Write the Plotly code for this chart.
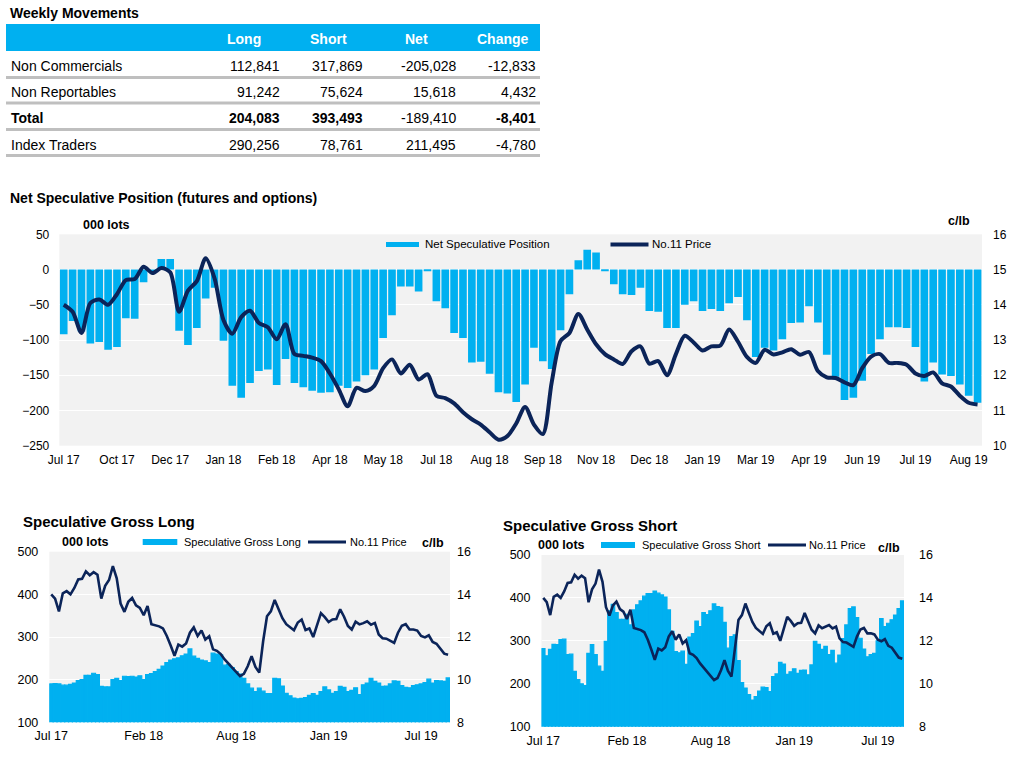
import plotly.graph_objects as go

W, H = 1036, 757
FONT = "Liberation Sans, Arial, sans-serif"
BLUE = "#00B0F0"
NAVY = "#0B2459"
BG = "#F2F2F2"

# ---------------- data ----------------
table_rows = ["Non Commercials", "Non Reportables", "Total", "Index Traders"]
table_cols = ["Long", "Short", "Net", "Change"]
col_long = ["112,841", "91,242", "204,083", "290,256"]
col_short = ["317,869", "75,624", "393,493", "78,761"]
col_net = ["-205,028", "15,618", "-189,410", "211,495"]
col_change = ["-12,833", "4,432", "-8,401", "-4,780"]
bold_cells = {(2, 0), (2, 1), (2, 3)}  # Total row: Long, Short, Change bold

main_tick_labels = ["Jul 17", "Oct 17", "Dec 17", "Jan 18", "Feb 18", "Apr 18", "May 18",
                    "Jul 18", "Aug 18", "Sep 18", "Nov 18", "Dec 18", "Jan 19", "Mar 19",
                    "Apr 19", "Jun 19", "Jul 19", "Aug 19"]
small_tick_labels = ["Jul 17", "Feb 18", "Aug 18", "Jan 19", "Jul 19"]

net_position = [
    -92, -73, -88, -105, -103, -114, -110, -69, -70, -18,
    -3, 15, 15, -87, -107, -83, -41, -26, -101, -165,
    -182, -161, -144, -142, -164, -127, -161, -167, -172, -175,
    -174, -165, -168, -159, -150, -142, -97, -65, -24, -24,
    -31, -2, -45, -55, -90, -97, -132, -131, -148, -174,
    -176, -188, -163, -111, -130, -141, -86, -35, 13, 28,
    24, -2, -21, -35, -36, -26, -59, -60, -83, -83,
    -50, -45, -59, -56, -59, -48, -39, -72, -124, -111,
    -115, -99, -76, -75, -52, -75, -121, -152, -185, -182,
    -158, -120, -99, -82, -82, -83, -110, -159, -132, -149,
    -151, -163, -179, -189]

price = [
    14.0, 13.8, 13.2, 14.05, 14.15, 14.0, 14.3, 14.7, 14.73, 15.08,
    14.9, 15.04, 14.92, 13.8, 14.4, 14.67, 15.32, 14.75, 13.57, 13.18,
    13.65, 13.83, 13.48, 13.36, 13.02, 13.45, 12.6, 12.55, 12.5, 12.4,
    12.05, 11.6, 11.12, 11.64, 11.55, 11.7, 12.2, 12.45, 12.05, 12.3,
    11.88, 12.03, 11.42, 11.35, 11.2, 10.95, 10.75, 10.6, 10.38, 10.17,
    10.27, 10.63, 11.1, 10.6, 10.33, 11.8, 12.97, 13.2, 13.74, 13.3,
    12.88, 12.6, 12.45, 12.32, 12.68, 12.82, 12.33, 12.4, 12.0, 12.6,
    13.12, 12.93, 12.7, 12.82, 12.84, 13.3, 12.95, 12.52, 12.35, 12.72,
    12.59, 12.65, 12.74, 12.58, 12.66, 12.12, 11.94, 11.92, 11.8, 11.72,
    12.2, 12.53, 12.6, 12.35, 12.35, 12.3, 12.05, 11.98, 12.08, 11.77,
    11.68, 11.42, 11.22, 11.17]

gross_long = [
    190, 191, 190, 187, 187, 189, 192, 198, 200, 210,
    210, 215, 212, 184, 183, 183, 200, 203, 198, 208,
    207, 208, 206, 209, 200, 212, 214, 219, 224, 232,
    240, 246, 249, 251, 256, 260, 272, 255, 250, 246,
    244, 240, 262, 260, 258, 234, 236, 228, 219, 213,
    203, 190, 180, 172, 180, 173, 167, 167, 203, 202,
    185, 168, 162, 157, 155, 156, 158, 163, 167, 163,
    172, 183, 176, 168, 172, 184, 182, 172, 175, 181,
    165, 188, 192, 203, 196, 192, 184, 185, 190, 197,
    196, 186, 182, 181, 186, 188, 190, 193, 201, 192,
    198, 197, 196, 204]

gross_short = [
    282, 265, 280, 292, 291, 303, 304, 268, 269, 229,
    210, 200, 196, 271, 291, 268, 241, 229, 299, 370,
    385, 366, 350, 350, 362, 337, 372, 384, 393, 404,
    410, 410, 416, 411, 407, 402, 372, 322, 275, 272,
    276, 245, 309, 317, 346, 333, 366, 361, 370, 386,
    380, 378, 343, 283, 310, 314, 254, 203, 190, 175,
    162, 170, 183, 192, 191, 182, 217, 223, 250, 246,
    222, 228, 235, 224, 231, 232, 221, 244, 299, 292,
    280, 287, 268, 278, 248, 267, 305, 337, 375, 379,
    354, 306, 281, 263, 268, 271, 300, 352, 333, 341,
    349, 360, 375, 393]

idx = list(range(len(net_position)))
main_tickvals = list(range(0, 6 * len(main_tick_labels), 6))
small_tickvals = list(range(0, 24 * len(small_tick_labels), 24))


def px(x):
    return x / W


def py(y):
    return 1 - y / H


fig = go.Figure()

# ---------------- main chart ----------------
fig.add_trace(go.Bar(x=idx, y=net_position, width=0.86, marker=dict(color=BLUE, line=dict(width=0)),
                     xaxis="x", yaxis="y", name="Net Speculative Position"))
fig.add_trace(go.Scatter(x=idx, y=price, mode="lines",
                         line=dict(color=NAVY, width=4, shape="spline", smoothing=0.8),
                         xaxis="x", yaxis="y2", name="No.11 Price"))

# ---------------- gross long ----------------
fig.add_trace(go.Bar(x=idx, y=gross_long, width=1.0,
                     marker=dict(color=BLUE, line=dict(width=1.2, color=BLUE)),
                     xaxis="x2", yaxis="y3", name="Speculative Gross Long"))
fig.add_trace(go.Scatter(x=idx, y=price, mode="lines", line=dict(color=NAVY, width=2.6),
                         xaxis="x2", yaxis="y4", name="No.11 Price"))

# ---------------- gross short ----------------
fig.add_trace(go.Bar(x=idx, y=gross_short, width=1.0,
                     marker=dict(color=BLUE, line=dict(width=1.2, color=BLUE)),
                     xaxis="x3", yaxis="y5", name="Speculative Gross Short"))
fig.add_trace(go.Scatter(x=idx, y=price, mode="lines", line=dict(color=NAVY, width=2.6),
                         xaxis="x3", yaxis="y6", name="No.11 Price"))

tick12 = dict(family=FONT, size=12, color="#000")
tick125 = dict(family=FONT, size=12.5, color="#000")
xr = [-0.5, len(idx) - 0.5]

common_x = dict(showgrid=False, zeroline=False, showline=False, ticks="", range=xr, fixedrange=True,
                automargin=False)
common_y = dict(zeroline=False, showline=False, ticks="", fixedrange=True, automargin=False)

fig.update_layout(
    width=W, height=H, autosize=False,
    margin=dict(l=0, r=0, t=0, b=0, pad=0, autoexpand=False),
    paper_bgcolor="white", plot_bgcolor=BG,
    showlegend=False,
    font=dict(family=FONT, color="#000"),
    xaxis=dict(domain=[px(59.3), px(982)], anchor="y", tickvals=main_tickvals, ticktext=main_tick_labels,
               tickfont=tick12, ticklabelstandoff=5, **common_x),
    yaxis=dict(domain=[py(445.7), py(234.3)], anchor="x", range=[-250, 50],
               tickvals=[-250, -200, -150, -100, -50, 0, 50], showgrid=True, gridcolor="white", gridwidth=1.3,
               tickfont=tick12, ticklabelstandoff=9, **common_y),
    yaxis2=dict(overlaying="y", side="right", anchor="x", range=[10, 16], tickvals=list(range(10, 17)),
                showgrid=False, tickfont=tick12, ticklabelstandoff=10, **common_y),
    xaxis2=dict(domain=[px(49.3), px(450)], anchor="y3", tickvals=small_tickvals, ticktext=small_tick_labels,
                tickfont=tick125, ticklabelstandoff=4, **common_x),
    yaxis3=dict(domain=[py(722.3), py(551.7)], anchor="x2", range=[100, 500],
                tickvals=[100, 200, 300, 400, 500], showgrid=True, gridcolor="white", gridwidth=1.3,
                tickfont=tick125, ticklabelstandoff=10, **common_y),
    yaxis4=dict(overlaying="y3", side="right", anchor="x2", range=[8, 16], tickvals=[8, 10, 12, 14, 16],
                showgrid=False, tickfont=tick125, ticklabelstandoff=6, **common_y),
    xaxis3=dict(domain=[px(541.5), px(904)], anchor="y5", tickvals=small_tickvals, ticktext=small_tick_labels,
                tickfont=tick125, ticklabelstandoff=5, **common_x),
    yaxis5=dict(domain=[py(726.7), py(555)], anchor="x3", range=[100, 500],
                tickvals=[100, 200, 300, 400, 500], showgrid=True, gridcolor="white", gridwidth=1.3,
                tickfont=tick125, ticklabelstandoff=10, **common_y),
    yaxis6=dict(overlaying="y5", side="right", anchor="x3", range=[8, 16], tickvals=[8, 10, 12, 14, 16],
                showgrid=False, tickfont=tick125, ticklabelstandoff=14, **common_y),
)

shapes = []
ann = []


def text(x, y, s, size, bold=False, xanchor="left", color="#000"):
    ann.append(dict(x=px(x), y=py(y), xref="paper", yref="paper", text=(f"<b>{s}</b>" if bold else s),
                    showarrow=False, xanchor=xanchor, yanchor="middle",
                    font=dict(family=FONT, size=size, color=color)))


# ---------------- table ----------------
text(8, 13.3, "Weekly Movements", 14, bold=True)
shapes.append(dict(type="rect", xref="paper", yref="paper", x0=px(6), x1=px(540), y0=py(51), y1=py(24),
                   fillcolor=BLUE, line=dict(width=0)))
header_x = [243.7, 328, 416, 503]
for cx, lab in zip(header_x, table_cols):
    text(cx, 39.5, lab, 14, bold=True, xanchor="center", color="white")

row_y = [66, 92, 118.5, 145]
sep_y = [77.5, 103, 129.5, 155.5]
value_right = [281.5, 365, 458, 538]
columns = [col_long, col_short, col_net, col_change]
for r, (label, yy) in enumerate(zip(table_rows, row_y)):
    text(8.7, yy, label, 14, bold=(label == "Total"))
    for c, (col, xr_) in enumerate(zip(columns, value_right)):
        text(xr_, yy, col[r], 14, bold=((r, c) in bold_cells), xanchor="right")
for sy in sep_y:
    shapes.append(dict(type="line", xref="paper", yref="paper", x0=px(6), x1=px(540), y0=py(sy), y1=py(sy),
                       line=dict(color="#BFBFBF", width=3)))

# ---------------- main chart labels / legend ----------------
text(8.3, 198.3, "Net Speculative Position (futures and options)", 14, bold=True)
text(106, 224.7, "000 lots", 12.5, bold=True, xanchor="center")
text(958.8, 221, "c/lb", 12.5, bold=True, xanchor="center")
shapes.append(dict(type="rect", xref="paper", yref="paper", x0=px(386), x1=px(419), y0=py(247), y1=py(242),
                   fillcolor=BLUE, line=dict(width=0), layer="above"))
text(423, 244.3, "Net Speculative Position", 11.5)
shapes.append(dict(type="line", xref="paper", yref="paper", x0=px(610.5), x1=px(648.5), y0=py(244.5),
                   y1=py(244.5), line=dict(color=NAVY, width=4), layer="above"))
text(650, 244.3, "No.11 Price", 11.5)

# ---------------- gross long labels ----------------
text(20.7, 521, "Speculative Gross Long", 15, bold=True)
text(85, 541.7, "000 lots", 12.5, bold=True, xanchor="center")
text(432.5, 543, "c/lb", 12.5, bold=True, xanchor="center")
shapes.append(dict(type="rect", xref="paper", yref="paper", x0=px(142.7), x1=px(177.3), y0=py(545),
                   y1=py(539), fillcolor=BLUE, line=dict(width=0)))
text(181.5, 542, "Speculative Gross Long", 11)
shapes.append(dict(type="line", xref="paper", yref="paper", x0=px(308), x1=px(346), y0=py(542), y1=py(542),
                   line=dict(color=NAVY, width=3)))
text(347.5, 542, "No.11 Price", 11)

# ---------------- gross short labels ----------------
text(500.5, 525, "Speculative Gross Short", 15, bold=True)
text(561.8, 545, "000 lots", 12.5, bold=True, xanchor="center")
text(889, 547.7, "c/lb", 12.5, bold=True, xanchor="center")
shapes.append(dict(type="rect", xref="paper", yref="paper", x0=px(601), x1=px(635), y0=py(548),
                   y1=py(542), fillcolor=BLUE, line=dict(width=0)))
text(640, 545, "Speculative Gross Short", 11)
shapes.append(dict(type="line", xref="paper", yref="paper", x0=px(768), x1=px(806), y0=py(545), y1=py(545),
                   line=dict(color=NAVY, width=3)))
text(806.5, 545, "No.11 Price", 11)

fig.update_layout(shapes=shapes, annotations=ann)
fig.write_html("out.html")
